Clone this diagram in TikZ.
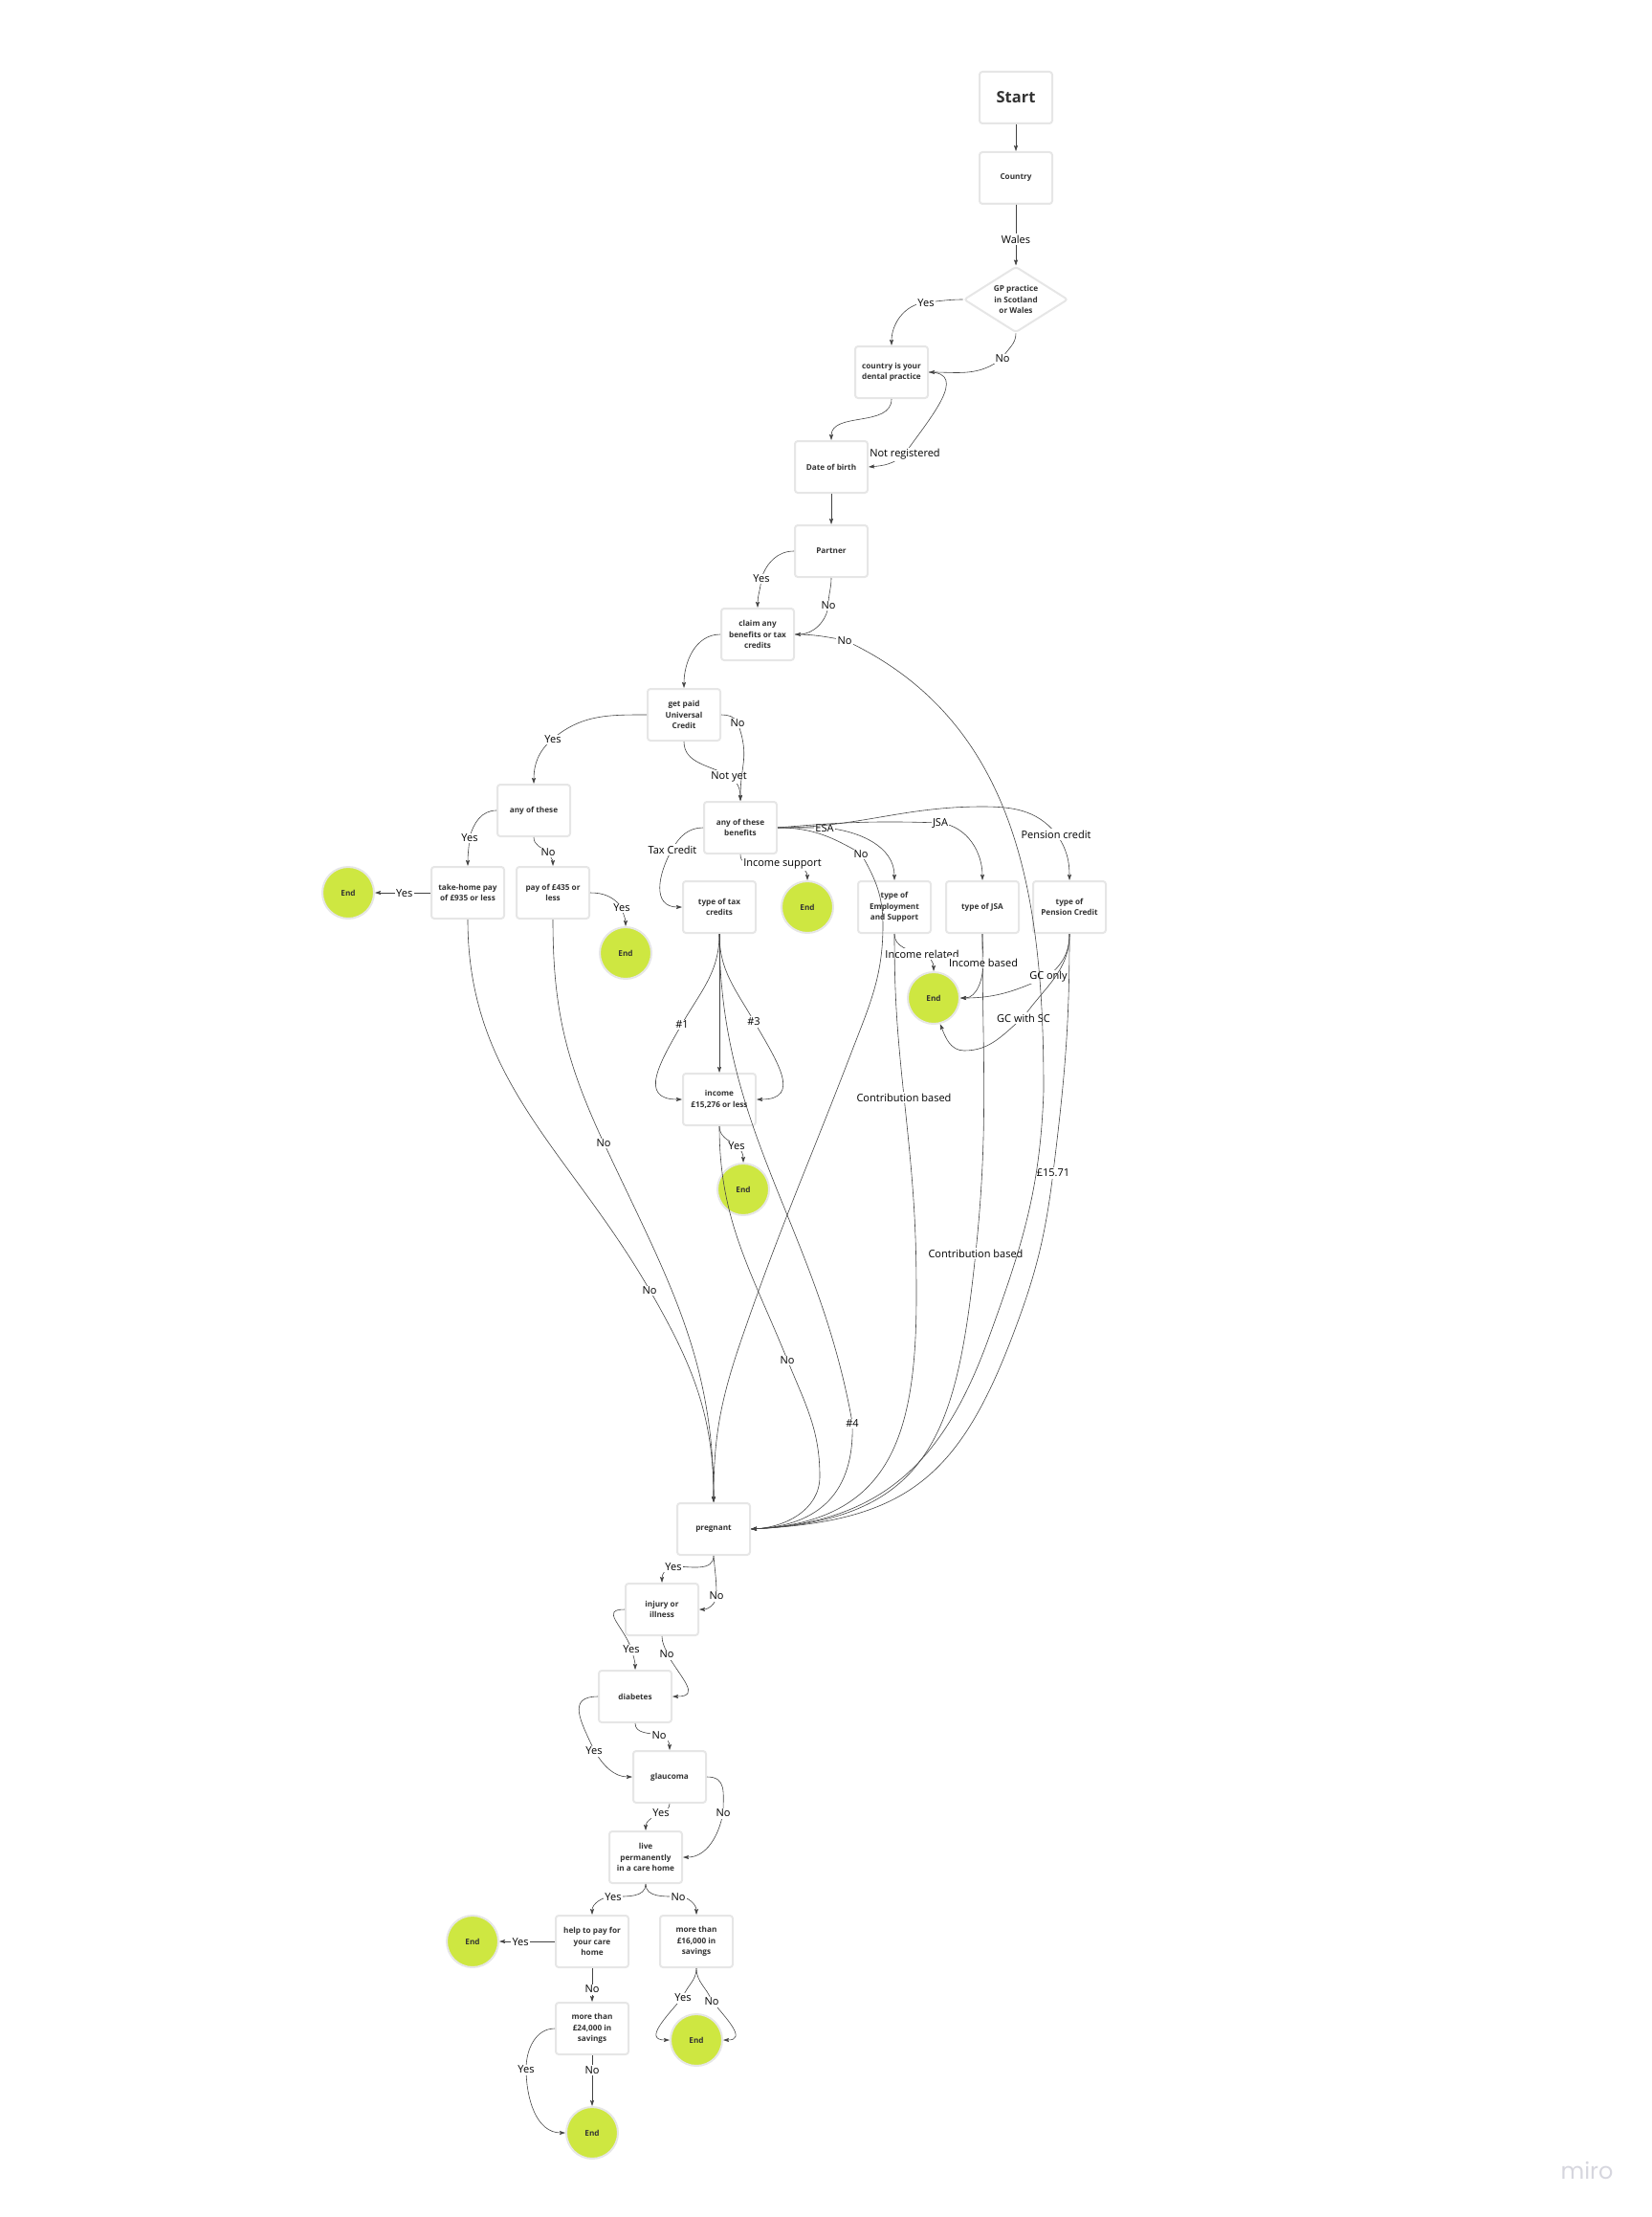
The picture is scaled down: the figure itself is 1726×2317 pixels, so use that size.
\documentclass[tikz,border=0pt]{standalone}
\usepackage{fontspec}
\setmainfont{Open Sans}
\newfontfamily\logofont{Poppins}
\usetikzlibrary{shapes.geometric,arrows.meta}
\definecolor{edgegrey}{HTML}{E6E6E6}
\definecolor{textgrey}{HTML}{333333}
\definecolor{linegrey}{HTML}{444444}
\definecolor{lime}{HTML}{CEE741}
\definecolor{logogrey}{HTML}{D6D6DE}
\begin{document}
\begin{tikzpicture}[x=1pt, y=-1pt,
    box/.style = {draw=edgegrey, line width=2pt, rounded corners=3pt, fill=white, minimum width=76pt, minimum height=54pt, inner sep=0pt, align=center, text=textgrey, font=\fontsize{8.2}{11.5}\selectfont\bfseries},
    gate/.style = {box, diamond, aspect=1.55, minimum width=109pt, minimum height=69pt},
    fin/.style = {draw=edgegrey, line width=2pt, circle, fill=lime, minimum size=54pt, inner sep=0pt, text=black!80, font=\fontsize{8.2}{11.5}\selectfont\bfseries},
    lbl/.style = {fill=white, inner sep=1.5pt, yshift=-1pt, text=black, font=\fontsize{11}{13}\selectfont},
    link/.style = {draw=linegrey, line width=0.6pt, -{Stealth[length=6pt,width=4pt,inset=1pt]}}]
\useasboundingbox (0,0) rectangle (1726,2317);
% boxes
\node[box] (start) at (1062,102) {\fontsize{16.5}{20}\selectfont Start};
\node[box] (country) at (1062,186) {Country};
\node[gate] (gp) at (1062,313) {GP practice\\in Scotland\\or Wales};
\node[box] (dental) at (932,389) {country is your\\dental practice};
\node[box] (dob) at (869,488) {Date of birth};
\node[box] (partner) at (869,576) {Partner};
\node[box] (claim) at (792,663) {claim any\\benefits or tax\\credits};
\node[box] (uc) at (715,747) {get paid\\Universal\\Credit};
\node[box] (anyof) at (558,847) {any of these};
\node[box] (benefits) at (774,865) {any of these\\benefits};
\node[box] (takehome) at (489,933) {take-home pay\\of £935 or less};
\node[box] (pay) at (578,933) {pay of £435 or\\less};
\node[box] (tax) at (752,948) {type of tax\\credits};
\node[box] (esa) at (935,948) {type of\\Employment\\and Support};
\node[box] (jsa) at (1027,948) {type of JSA};
\node[box] (pc) at (1118,948) {type of\\Pension Credit};
\node[box] (income) at (752,1149) {income\\£15,276 or less};
\node[box] (pregnant) at (746,1598) {pregnant};
\node[box] (injury) at (692,1682) {injury or\\illness};
\node[box] (diabetes) at (664,1773) {diabetes};
\node[box] (glaucoma) at (700,1857) {glaucoma};
\node[box] (live) at (675,1941) {live\\permanently\\in a care home};
\node[box] (help) at (619,2029) {help to pay for\\your care\\home};
\node[box] (more16) at (728,2029) {more than\\£16,000 in\\savings};
\node[box] (more24) at (619,2120) {more than\\£24,000 in\\savings};
% end points
\node[fin] (fin1) at (364,933) {End};
\node[fin] (fin2) at (654,996) {End};
\node[fin] (fin3) at (844,948) {End};
\node[fin] (fin4) at (976,1043) {End};
\node[fin] (fin5) at (777,1243) {End};
\node[fin] (fin6) at (494,2029) {End};
\node[fin] (fin7) at (728,2132) {End};
\node[fin] (fin8) at (619,2229) {End};
\node[text=logogrey, font=\logofont\fontsize{24}{28}\selectfont] (logo) at (1659,2268) {miro};
% top part
\draw[link] (start) -- (country);
\draw[link] (country) -- node[lbl,pos=.55] (wales) {Wales} (gp);
\draw[link] (gp.west) to[out=180,in=5] node[lbl,pos=1] (yes1) {Yes} (968,316) to[out=185,in=90] (dental.north);
\draw[link] (gp.south) to[out=-90,in=60] node[lbl,pos=1] (no1) {No} (1048,374) to[out=220,in=0] (dental.east);
\draw[link] (dental.south) to[out=-90,in=90] (dob.north);
\draw[link] (dental.east) to[out=0,in=55,looseness=1.25] node[lbl,pos=1] (notreg) {Not registered} (946,474) to[out=225,in=5] (dob.east);
\draw[link] (dob) -- (partner);
\draw[link] (partner.west) to[out=180,in=70] node[lbl,pos=1] (yes2) {Yes} (796,604) to[out=265,in=90] (claim.north);
\draw[link] (partner.south) to[out=-90,in=90] node[lbl,pos=1] (no2) {No} (866,632) to[out=265,in=0] (claim.east);
\draw[link] (claim.west) to[out=180,in=90] (uc.north);
\draw[link] (uc.west) to[out=180,in=40] node[lbl,pos=1] (yes3) {Yes} (578,772) to[out=220,in=90] (anyof.north);
\draw[link] (uc.south) to[out=-90,in=150] node[lbl,pos=1] (notyet) {Not yet} (762,811) to[out=-30,in=90] (benefits.north);
\draw[link] (uc.east) to[out=0,in=120] node[lbl,pos=1] (no3) {No} (771,755) to[out=-70,in=90,looseness=1.2] (benefits.north);
% left branch
\draw[link] (anyof.west) to[out=180,in=75] node[lbl,pos=1] (yes4) {Yes} (491,875) to[out=265,in=90] (takehome.north);
\draw[link] (anyof.south) to[out=-90,in=150] node[lbl,pos=1] (no4) {No} (573,890) to[out=-70,in=90] (pay.north);
\draw[link] (takehome.west) -- node[lbl,pos=.47] (yes5) {Yes} (fin1.east);
\draw[link] (pay.east) to[out=0,in=130] node[lbl,pos=1] (yes6) {Yes} (650,948) to[out=-80,in=90] (fin2.north);
\draw[link] (takehome.south) to[out=-90,in=120] node[lbl,pos=1] (no5) {No} (679,1348) to[out=-60,in=90] (pregnant.north);
\draw[link] (pay.south) to[out=-90,in=115] node[lbl,pos=1] (no6) {No} (631,1194) to[out=-65,in=90] (pregnant.north);
% benefits
\draw[link] (benefits.south) to[out=-90,in=180] node[lbl,pos=1] (support) {Income support} (818,902) to[out=0,in=90] (fin3.north);
\draw[link] (benefits.west) to[out=180,in=60] node[lbl,pos=1] (taxcredit) {Tax Credit} (703,887) to[out=240,in=180,looseness=1.3] (tax.west);
\draw[link] (benefits.east) to[out=0,in=180] node[lbl,pos=1] (esalbl) {ESA} (862,865) to[out=-5,in=90] (esa.north);
\draw[link] (benefits.east) to[out=5,in=178] node[lbl,pos=1] (jsalbl) {JSA} (983,860) to[out=-8,in=90] (jsa.north);
\draw[link] (benefits.east) to[out=0,in=180] (1027,843) to[out=0,in=130] node[lbl,pos=1] (pclbl) {Pension credit} (1104,871) to[out=-55,in=90] (pc.north);
\draw[link] (benefits.east) to[out=0,in=150] node[lbl,pos=1] (no7) {No} (900,892) to[out=-60,in=90] (923,967) to[out=-90,in=69] (890,1100) to[out=249,in=71] (775,1400) to[out=251,in=90] (pregnant.north);
% tax credits
\draw[link] (tax.south) -- (income.north);
\draw[link] (tax.south) to[out=-90,in=60] node[lbl,pos=1] (one) {\#1} (713,1070) to[out=240,in=180,looseness=1.5] (income.west);
\draw[link] (tax.south) to[out=-90,in=120] node[lbl,pos=1] (three) {\#3} (788,1067) to[out=-60,in=0,looseness=1.5] (income.east);
\draw[link] (tax.south) to[out=-90,in=100] (891,1487) to[out=-88,in=3,looseness=1.2] (pregnant.east);
\node[lbl] (four) at (891,1487) {\#4};
\draw[link] (income.south) to[out=-90,in=150] node[lbl,pos=1] (yes7) {Yes} (770,1197) to[out=-40,in=90] (fin5.north);
\draw[link] (income.south) to[out=-90,in=112] node[lbl,pos=1] (no8) {No} (823,1421) to[out=-68,in=90] (857,1543) to[out=-90,in=3] (pregnant.east);
% types
\draw[link] (esa.south) to[out=-90,in=170] node[lbl,pos=1] (related) {Income related} (964,996) to[out=-20,in=90] (fin4.north);
\draw[link] (jsa.south) to[out=-90,in=90] node[lbl,pos=1] (based) {Income based} (1028,1005) to[out=-90,in=0] (fin4.east);
\draw[link] (esa.south) to[out=-90,in=96] node[lbl,pos=1] (contrib1) {Contribution based} (945,1146) to[out=-84,in=90] (958,1353) to[out=-90,in=3,looseness=1.25] (pregnant.east);
\draw[link] (jsa.south) to[out=-90,in=84] node[lbl,pos=1] (contrib2) {Contribution based} (1020,1309) to[out=264,in=3,looseness=1.3] (pregnant.east);
\draw[link] (pc.south) to[out=-90,in=40] node[lbl,pos=1] (gconly) {GC only} (1096,1020) to[out=205,in=0] (fin4.east);
\draw[link] (pc.south) to[out=-90,in=55] node[lbl,pos=1] (gcsc) {GC with SC} (1070,1063) to[out=220,in=0] (1008,1098) to[out=180,in=-68] (fin4.-76);
\draw[link] (pc.south) to[out=-90,in=83] node[lbl,pos=1] (fee) {£15.71} (1101,1225) to[out=263,in=69] (1057,1400) to[out=249,in=3,looseness=1.2] (pregnant.east);
\draw[link] (claim.east) to[out=0,in=170] node[lbl,pos=1] (no9) {No} (883,669) to[out=-25,in=90] (1091,1140) to[out=-92,in=70] (1033,1400) to[out=250,in=3,looseness=1.1] (pregnant.east);
% lower part
\draw[link] (pregnant.south) to[out=-90,in=0] node[lbl,pos=1] (yes8) {Yes} (704,1637) to[out=180,in=90] (injury.north);
\draw[link] (pregnant.south) to[out=-85,in=90] node[lbl,pos=1] (no10) {No} (749,1667) to[out=-90,in=0] (injury.east);
\draw[link] (injury.west) to[out=180,in=110,looseness=1.6] node[lbl,pos=1] (yes9) {Yes} (660,1723) to[out=-75,in=90] (diabetes.north);
\draw[link] (injury.south) to[out=-90,in=105] node[lbl,pos=1] (no11) {No} (697,1728) to[out=-60,in=0,looseness=1.7] (diabetes.east);
\draw[link] (diabetes.west) to[out=180,in=115,looseness=1.5] node[lbl,pos=1] (yes10) {Yes} (621,1829) to[out=-60,in=180] (glaucoma.west);
\draw[link] (diabetes.south) to[out=-90,in=170] node[lbl,pos=1] (no12) {No} (689,1813) to[out=-10,in=90] (glaucoma.north);
\draw[link] (glaucoma.south) to[out=-90,in=0] node[lbl,pos=1] (yes11) {Yes} (691,1894) to[out=210,in=90] (live.north);
\draw[link] (glaucoma.east) to[out=0,in=90,looseness=1.3] node[lbl,pos=1] (no13) {No} (756,1894) to[out=-100,in=0] (live.east);
\draw[link] (live.south) to[out=-90,in=0] node[lbl,pos=1] (yes12) {Yes} (641,1982) to[out=180,in=90] (help.north);
\draw[link] (live.south) to[out=-90,in=180] node[lbl,pos=1] (no14) {No} (709,1982) to[out=0,in=90] (more16.north);
\draw[link] (help.west) -- node[lbl,pos=.62] (yes13) {Yes} (fin6.east);
\draw[link] (help.south) -- node[lbl,pos=.6] (no15) {No} (more24.north);
\draw[link] (more24.west) to[out=180,in=90] node[lbl,pos=1] (yes14) {Yes} (550,2162) to[out=-90,in=180] (fin8.west);
\draw[link] (more24.south) -- node[lbl,pos=.28] (no16) {No} (fin8.north);
\draw[link] (more16.south) to[out=-90,in=70] node[lbl,pos=1] (yes15) {Yes} (714,2087) to[out=230,in=180,looseness=1.5] (fin7.west);
\draw[link] (more16.south) to[out=-90,in=110] node[lbl,pos=1] (no17) {No} (744,2091) to[out=-50,in=0,looseness=1.5] (fin7.east);
\end{tikzpicture}
\end{document}
